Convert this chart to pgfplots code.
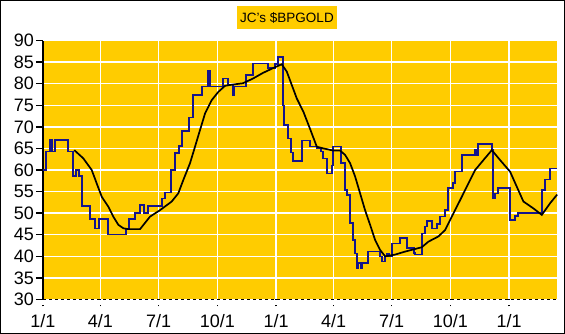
\documentclass[border=0pt]{standalone}
\usepackage{fontspec}
\setmainfont{Liberation Sans}
\usepackage{pgfplots}
\usepackage{pgfplotstable}
\pgfplotsset{compat=1.18}
\definecolor{gold}{RGB}{255,204,0}
\definecolor{navyline}{RGB}{20,20,140}

% day index from 1/1 of first year; price
\pgfplotstableread{
x y
0 60
4.7 64.3
11.0 67
14.1 64.3
18.8 67
39.2 64.3
47.0 58.6
51.7 60
56.4 58.6
61.1 51.7
73.6 48.6
81.5 46.5
87.7 48.6
101.8 45
130.0 46.5
135.0 48.6
144.1 50
151.9 51.9
158.2 50
164.4 51.7
186.4 53.4
191.1 54.8
200.5 60
206.8 63.9
213.0 65.6
217.7 69
228.7 72.2
235.0 77.4
249.1 79.3
258.5 83
261.6 79.3
282.0 81.2
289.8 79.8
297.6 77.4
299.2 79.3
318.0 82
329.0 84.7
352.5 83.6
363.5 84.5
368.1 86.2
376.0 75
377.5 70.4
383.8 67.3
388.5 64
391.6 62.1
405.7 66.8
418.3 65.4
429.2 65
435.5 64.3
438.6 62.7
444.9 59.2
452.7 61
454.3 65.4
466.8 61.6
473.1 55.4
476.2 54.2
480.9 47.7
485.6 43.8
488.8 40.7
491.9 37.2
493.5 38.4
498.2 37.2
499.7 38.4
509.1 41.1
527.9 40
531.1 38.8
535.8 40
538.9 40.7
542.1 40
546.7 43
559.2 44.2
570.2 41.9
581.2 40.8
582.7 40.4
593.7 45.3
598.4 46.9
601.6 48.2
609.4 46.5
617.2 47.5
621.9 49.2
629.8 50.7
634.5 55.8
642.3 57
645.4 59.6
656.4 63.5
676.8 64.8
679.9 63.5
681.5 66
703.4 64.8
705.0 53.4
708.1 54.6
712.8 55.8
731.6 48.4
739.4 49.3
744.1 50
781.7 55.4
786.4 57.8
794.2 60.4
805.2 60.4
}\pricetable

\pgfplotstableread{
x y
49.0 64.6
63.1 62.7
76.3 60
84.1 56.9
92.0 53.8
102.3 51.5
110.1 49.2
118.0 47.3
125.8 46.5
133.6 46.3
152.0 46.3
167.6 49.2
183.3 50.7
201.6 52.7
211.9 54.6
219.8 57.7
230.3 61.6
238.1 65.4
246.0 69.3
253.8 73.1
264.3 76.2
274.6 78.1
285.1 79.5
292.9 79.7
313.3 80.1
329.0 81.2
344.6 82.5
360.3 83.6
373.9 84.5
381.8 82.8
389.6 79.7
397.4 76.6
407.8 73.5
418.3 69.5
428.8 65.4
439.1 65
454.8 64.5
465.3 64.5
473.1 63.5
480.9 61.6
488.8 58.5
496.6 54.6
504.4 50.7
512.3 47.3
520.1 43.8
527.9 41.5
535.8 40
551.4 40.4
567.1 41.1
582.7 41.7
593.2 42.1
603.6 43.4
619.2 44.6
629.8 46.1
637.6 48.4
645.4 50.7
655.9 53.8
666.3 56.9
676.8 60
689.8 62.3
702.9 64.6
715.9 62.3
731.6 59.6
742.1 56.1
752.4 52.7
768.1 51.1
781.2 49.6
794.2 52.3
805.2 54.3
}\matable

\begin{document}
\begin{tikzpicture}[x=1pt,y=1pt]
\useasboundingbox (0,0) rectangle (565,334);
\fill[white] (0,0) rectangle (565,334);
\draw[black, line width=1pt] (0.5,0.5) rectangle (564.5,333.5);
\node[fill=gold, minimum width=100pt, minimum height=23pt, inner sep=0pt,
      font=\fontsize{13.5}{15}\selectfont] at (287,316.5) {JC's \$BPGOLD};
\begin{axis}[
  at={(43pt,34.5pt)}, anchor=south west,
  width=514pt, height=259pt, scale only axis,
  xmin=0, xmax=805, ymin=30, ymax=90,
  axis x line=bottom, axis y line=left,
  axis line style={-},
  x axis line style={black, line width=1.5pt, dash pattern=on 3pt off 3pt},
  y axis line style={black, line width=2pt},
  axis background/.style={fill=gold},
  grid=major,
  major grid style={white, line width=1.5pt},
  xtick={0,90,181,273,365,455,546,638,730},
  xticklabels={1/1,4/1,7/1,10/1,1/1,4/1,7/1,10/1,1/1},
  ytick={30,35,...,90},
  tick align=outside,
  major tick length=7pt,
  ytick style={black, line width=1.5pt},
  xtick style={black, line width=1.5pt, dash pattern=on 1.5pt off 5pt},
  tick label style={font=\fontsize{18}{20}\selectfont},
  /pgf/number format/assume math mode=true,
  yticklabel style={inner sep=2pt},
  xticklabel style={inner sep=0pt, yshift=-7.5pt},
  clip=false,
]
\addplot[const plot, navyline, line width=1.5pt] table[x=x,y=y] {\pricetable};
\addplot[black, line width=1.7pt] table[x=x,y=y] {\matable};
\end{axis}
\end{tikzpicture}
\end{document}
